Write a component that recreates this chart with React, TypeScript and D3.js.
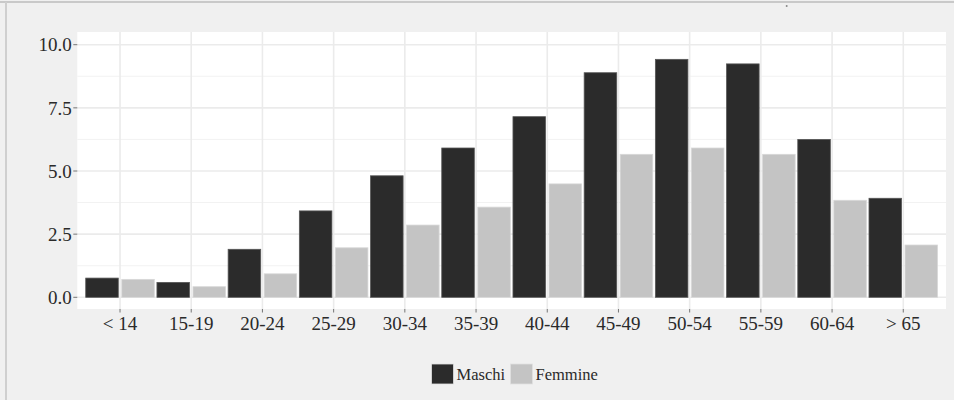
import React from "react";
import * as d3 from "d3";

const categories = ["< 14", "15-19", "20-24", "25-29", "30-34", "35-39", "40-44", "45-49", "50-54", "55-59", "60-64", "> 65"];
const maschi = [0.76, 0.59, 1.9, 3.42, 4.81, 5.91, 7.15, 8.89, 9.42, 9.24, 6.25, 3.92];
const femmine = [0.71, 0.42, 0.93, 1.96, 2.86, 3.57, 4.49, 5.66, 5.91, 5.66, 3.84, 2.07];
const yTicks = [0, 2.5, 5, 7.5, 10];
const yMinor = [1.25, 3.75, 6.25, 8.75];
const seriesNames = ["Maschi", "Femmine"];

const W = 954;
const H = 400;
const panel = { left: 77.3, right: 946, top: 32, bottom: 309 };
const colors = ["#2b2b2b", "#c4c4c4"];
const font = "'Liberation Serif', 'DejaVu Serif', serif";

export default function App() {
  const step = (panel.right - panel.left) / (categories.length - 1 + 1.2);
  const x = d3
    .scalePoint<string>()
    .domain(categories)
    .range([panel.left + 0.6 * step, panel.right - 0.6 * step]);
  const y = d3.scaleLinear().domain([0, 10]).range([297.3, 44.7]);
  const bw = 0.457 * step;
  const off = 0.253 * step;
  const series = [maschi, femmine];

  return (
    <svg width={W} height={H} style={{ position: "absolute", left: 0, top: 0 }} xmlns="http://www.w3.org/2000/svg">
      <rect x={0} y={0} width={W} height={H} fill="#f0f0f0" />
      <line x1={0} x2={W} y1={2} y2={2} stroke="#bdbdbd" strokeWidth={1.5} />
      <line x1={6} x2={6} y1={2} y2={H} stroke="#cfcfcf" strokeWidth={2} />
      <circle cx={786.7} cy={6} r={1} fill="#888" />
      <rect x={panel.left} y={panel.top} width={panel.right - panel.left} height={panel.bottom - panel.top} fill="#ffffff" />
      {yMinor.map((t) => (
        <line key={"m" + t} x1={panel.left} x2={panel.right} y1={y(t)} y2={y(t)} stroke="#f2f2f2" strokeWidth={1} />
      ))}
      {yTicks.map((t) => (
        <line key={"g" + t} x1={panel.left} x2={panel.right} y1={y(t)} y2={y(t)} stroke="#ebebeb" strokeWidth={1.6} />
      ))}
      {categories.map((c) => (
        <line key={"v" + c} x1={x(c)} x2={x(c)} y1={panel.top} y2={panel.bottom} stroke="#ebebeb" strokeWidth={1.6} />
      ))}
      {categories.map((c, i) =>
        series.map((s, k) => {
          const cx = (x(c) as number) + (k === 0 ? -off : off);
          return (
            <rect
              key={c + k}
              x={cx - bw / 2}
              y={y(s[i])}
              width={bw}
              height={y(0) - y(s[i])}
              fill={colors[k]}
              stroke={k === 0 ? "#555555" : "#d8d8d8"}
              strokeWidth={0.8}
            />
          );
        })
      )}
      {yTicks.map((t) => (
        <g key={"yt" + t}>
          <line x1={panel.left - 4} x2={panel.left} y1={y(t)} y2={y(t)} stroke="#555" strokeWidth={0.8} />
          <text x={panel.left - 5.5} y={y(t)} dy="0.35em" textAnchor="end" fontFamily={font} fontSize={19} fill="#2a2a2a">
            {d3.format(".1f")(t)}
          </text>
        </g>
      ))}
      {categories.map((c) => (
        <g key={"xt" + c}>
          <line x1={x(c)} x2={x(c)} y1={panel.bottom} y2={panel.bottom + 3.5} stroke="#555" strokeWidth={0.8} />
          <text x={x(c)} y={panel.bottom + 21} textAnchor="middle" fontFamily={font} fontSize={19} fill="#2a2a2a">
            {c}
          </text>
        </g>
      ))}
      {seriesNames.map((n, k) => {
        const kx = k === 0 ? 431.5 : 510.5;
        return (
          <g key={n}>
            <rect x={kx} y={364} width={22} height={20} fill={colors[k]} stroke="#e0e0e0" strokeWidth={0.8} />
            <text x={kx + 25} y={380} fontFamily={font} fontSize={16.5} fill="#2a2a2a">
              {n}
            </text>
          </g>
        );
      })}
    </svg>
  );
}
